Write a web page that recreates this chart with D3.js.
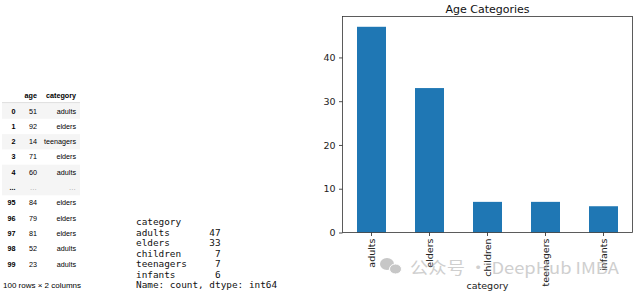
<!DOCTYPE html>
<html><head><meta charset="utf-8">
<script src="https://cdn.jsdelivr.net/npm/d3@7"></script>
<style>
body{margin:0;background:#fff;}
svg{display:block;}
</style>
</head><body>
<svg id="c" width="640" height="293"></svg>
<script>
// Chart data
const categories = ["adults", "elders", "children", "teenagers", "infants"];
const counts = [47, 33, 7, 7, 6];
const yTicks = [0, 10, 20, 30, 40];
const chartTitle = "Age Categories";
const xLabel = "category";

// DataFrame preview data
const tableIndex = ["0", "1", "2", "3", "4", "...", "95", "96", "97", "98", "99"];
const tableAge = ["51", "92", "14", "71", "60", "...", "84", "79", "81", "52", "23"];
const tableCategory = ["adults", "elders", "teenagers", "elders", "adults", "...", "elders", "elders", "elders", "adults", "adults"];
const tableHeader = ["", "age", "category"];
const tableFooter = "100 rows × 2 columns";

// value_counts printout
const seriesLines = ["category", "adults       47", "elders       33", "children      7", "teenagers     7", "infants       6", "Name: count, dtype: int64"];

const watermark = "公众号 · DeepHub IMBA";

const svg = d3.select("#c");

// ---------- DataFrame table ----------
const tbl = svg.append("g").attr("font-family", "'Liberation Sans', Arial, sans-serif").attr("font-size", 7.2).attr("fill", "#000");
const rowY0 = 111, rowH = 15.3;
const rowScale = d3.scaleLinear().domain([0, 1]).range([rowY0, rowY0 + rowH]);
tableIndex.forEach((d, i) => {
  if (i % 2 === 0 || i === 5) {
    if (!(i === 6 || i === 8 || i === 10)) {
      tbl.append("rect").attr("x", 2).attr("y", rowScale(i) - 7.5).attr("width", 78).attr("height", rowH).attr("fill", "#f5f5f5");
    }
  }
});
// header
tbl.append("text").attr("x", 37).attr("y", 97.5).attr("text-anchor", "end").attr("font-weight", "bold").text(tableHeader[1]);
tbl.append("text").attr("x", 76).attr("y", 97.5).attr("text-anchor", "end").attr("font-weight", "bold").text(tableHeader[2]);
tbl.append("line").attr("x1", 2).attr("x2", 80).attr("y1", 102.7).attr("y2", 102.7).attr("stroke", "#d0d0d0").attr("stroke-width", 0.8);
tableIndex.forEach((d, i) => {
  const y = rowScale(i) + 2.5;
  tbl.append("text").attr("x", 15.5).attr("y", y).attr("text-anchor", "end").attr("font-weight", "bold").text(d);
  tbl.append("text").attr("x", 37).attr("y", y).attr("text-anchor", "end").attr("fill", d === "..." ? "#999" : "#000").text(tableAge[i] === "..." ? "…" : tableAge[i]);
  tbl.append("text").attr("x", 76).attr("y", y).attr("text-anchor", "end").attr("fill", d === "..." ? "#999" : "#000").text(tableCategory[i] === "..." ? "…" : tableCategory[i]);
});
tbl.append("text").attr("x", 3).attr("y", 288).attr("font-size", 8).text(tableFooter);

// ---------- Series printout ----------
const mono = svg.append("g").attr("font-family", "'DejaVu Sans Mono', monospace").attr("font-size", 9.4).attr("fill", "#111");
seriesLines.forEach((t, i) => {
  mono.append("text").attr("x", 136).attr("y", 225 + i * 10.5).attr("xml:space", "preserve").style("white-space", "pre").text(t);
});

// ---------- Bar chart ----------
const L = 342.5, R = 632.5, T = 16.5, B = 232.5;
const x = d3.scaleBand().domain(categories).range([L, R]).paddingInner(0.5).paddingOuter(0.25);
const y = d3.scaleLinear().domain([0, d3.max(counts) * 1.05]).range([B, T]);

const chart = svg.append("g").attr("font-family", "'DejaVu Sans', sans-serif");

chart.selectAll("rect.bar").data(categories).enter().append("rect")
  .attr("class", "bar")
  .attr("x", d => x(d))
  .attr("y", (d, i) => y(counts[i]))
  .attr("width", x.bandwidth())
  .attr("height", (d, i) => B - y(counts[i]))
  .attr("fill", "#1f77b4");

// y axis
const yAxis = chart.append("g").attr("transform", `translate(${L},0)`)
  .call(d3.axisLeft(y).tickValues(yTicks).tickSize(3.5).tickPadding(3.5).tickFormat(d3.format("d")));
yAxis.select(".domain").remove();
yAxis.selectAll("text").attr("font-size", 9.5).attr("font-family", "'DejaVu Sans', sans-serif").attr("fill", "#222");
yAxis.selectAll("line").attr("stroke", "#222").attr("stroke-width", 0.8);

// x axis
const xAxis = chart.append("g").attr("transform", `translate(0,${B})`)
  .call(d3.axisBottom(x).tickSize(3.5).tickPadding(3.5));
xAxis.select(".domain").remove();
xAxis.selectAll("line").attr("stroke", "#222").attr("stroke-width", 0.8);
xAxis.selectAll("text")
  .attr("font-size", 9.5).attr("font-family", "'DejaVu Sans', sans-serif").attr("fill", "#222")
  .attr("transform", "rotate(-90)")
  .attr("text-anchor", "end")
  .attr("x", -6).attr("y", 0).attr("dy", "0.32em");

// frame
chart.append("rect").attr("x", L).attr("y", T).attr("width", R - L).attr("height", B - T)
  .attr("fill", "none").attr("stroke", "#333").attr("stroke-width", 0.8);

// title & label
chart.append("text").attr("x", (L + R) / 2).attr("y", 12.5).attr("text-anchor", "middle")
  .attr("font-size", 11).attr("fill", "#111").text(chartTitle);
chart.append("text").attr("x", (L + R) / 2).attr("y", 289).attr("text-anchor", "middle")
  .attr("font-size", 9.5).attr("fill", "#222").text(xLabel);

// ---------- watermark ----------
const wm = svg.append("g").attr("opacity", 0.55);
wm.append("ellipse").attr("cx", 387).attr("cy", 264).attr("rx", 7).attr("ry", 6).attr("fill", "#9a9a9a");
wm.append("ellipse").attr("cx", 395.5).attr("cy", 269).attr("rx", 6).attr("ry", 5).attr("fill", "#9a9a9a").attr("stroke", "#fff").attr("stroke-width", 1);
wm.append("text").attr("x", 410).attr("y", 273.5)
  .attr("font-family", "'Noto Sans CJK SC', 'Noto Sans', sans-serif").attr("font-size", 16.5)
  .attr("fill", "#a8a8a8").attr("textLength", 209).attr("lengthAdjust", "spacingAndGlyphs").text(watermark);
</script>
</body></html>
